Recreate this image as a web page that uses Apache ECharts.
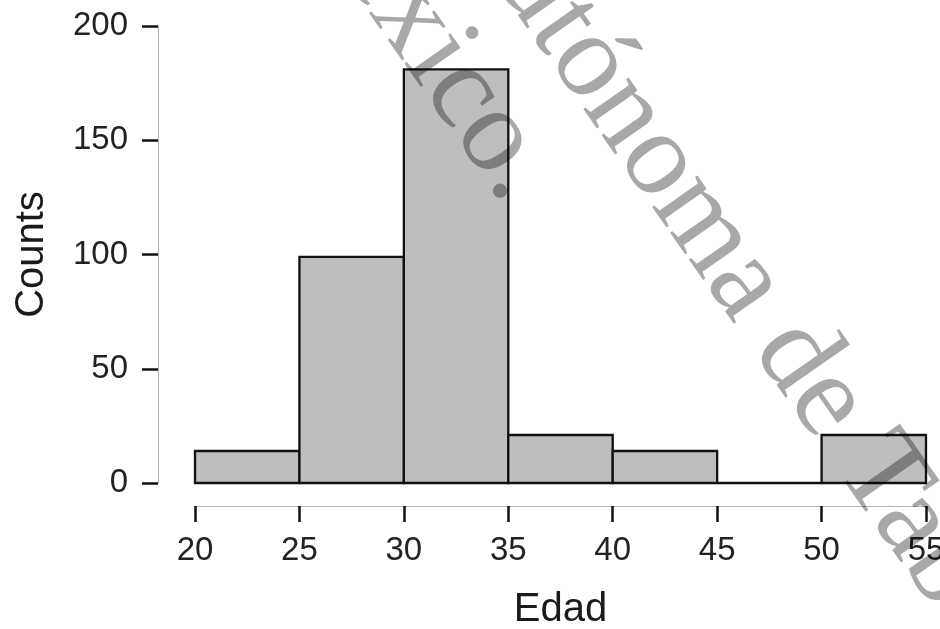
<!DOCTYPE html>
<html>
<head>
<meta charset="utf-8">
<script src="https://cdn.jsdelivr.net/npm/echarts@6/dist/echarts.min.js"></script>
<style>
html,body{margin:0;padding:0;background:#fff}
#wrap{position:relative;width:940px;height:629px}
#c,#w{position:absolute;left:0;top:0;width:940px;height:629px}
#w{mix-blend-mode:multiply;pointer-events:none}
</style>
</head>
<body>
<div id="wrap"><div id="c"></div><div id="w"></div></div>
<script>
const binStarts = [20, 25, 30, 35, 40, 45, 50];
const binEnds   = [25, 30, 35, 40, 45, 50, 55];
const counts    = [14, 99, 181, 21, 14, 0, 21];
const xTitle = 'Edad';
const yTitle = 'Counts';
const watermarkTop = 'Autónoma de Tabasco';
const watermarkBottom = 'México.';

const chart = echarts.init(document.getElementById('c'), null, {renderer: 'canvas'});
const data = binStarts.map((s, i) => [s, binEnds[i], counts[i]]);
const ang = -55 * Math.PI / 180;
const font = '"Liberation Sans", Arial, sans-serif';

chart.setOption({
  animation: false,
  backgroundColor: '#ffffff',
  grid: {left: 195, right: 14, top: 26, bottom: 146, containLabel: false, outerBoundsMode: 'none'},
  xAxis: {
    type: 'value', min: 20, max: 55, interval: 5,
    offset: 23,
    name: xTitle, nameLocation: 'middle', nameGap: 84,
    nameTextStyle: {fontSize: 40, color: '#1a1a1a', fontFamily: font},
    axisLine: {show: true, onZero: false, lineStyle: {color: '#b4b4b4', width: 1}},
    axisTick: {show: true, length: 16, lineStyle: {color: '#111', width: 2.5}},
    axisLabel: {fontSize: 33, color: '#222', fontFamily: font, margin: 28, showMinLabel: true, showMaxLabel: true},
    splitLine: {show: false}
  },
  yAxis: {
    type: 'value', min: 0, max: 200, interval: 50,
    offset: 37,
    name: yTitle, nameLocation: 'middle', nameGap: 106, nameRotate: 90,
    nameTextStyle: {fontSize: 40, color: '#1a1a1a', fontFamily: font},
    axisLine: {show: true, onZero: false, lineStyle: {color: '#b4b4b4', width: 1}},
    axisTick: {show: true, length: 16, lineStyle: {color: '#111', width: 2.5}},
    axisLabel: {fontSize: 33, color: '#222', fontFamily: font, margin: 30},
    splitLine: {show: false}
  },
  series: [{
    type: 'custom',
    data: data,
    encode: {x: [0, 1], y: 2},
    clip: false,
    renderItem: function (params, api) {
      const p0 = api.coord([api.value(0), 0]);
      const p1 = api.coord([api.value(1), api.value(2)]);
      return {
        type: 'rect',
        shape: {x: p0[0], y: p1[1], width: p1[0] - p0[0], height: p0[1] - p1[1]},
        style: {fill: '#bebebe', stroke: '#111', lineWidth: 2.3}
      };
    }
  }]
});

const wm = echarts.init(document.getElementById('w'), null, {renderer: 'canvas'});
wm.setOption({
  animation: false,
  backgroundColor: 'transparent',
  graphic: [
    {
      type: 'text', x: 470, y: -108, rotation: ang,
      style: {text: watermarkTop, fill: '#a8a8a8', font: '120px "Liberation Serif", "Times New Roman", serif',
        textAlign: 'left', textVerticalAlign: 'middle'}
    },
    {
      type: 'text', x: 530, y: 188, rotation: ang,
      style: {text: watermarkBottom, fill: '#a8a8a8', font: '120px "Liberation Serif", "Times New Roman", serif',
        textAlign: 'right', textVerticalAlign: 'middle'}
    }
  ]
});
</script>
</body>
</html>
